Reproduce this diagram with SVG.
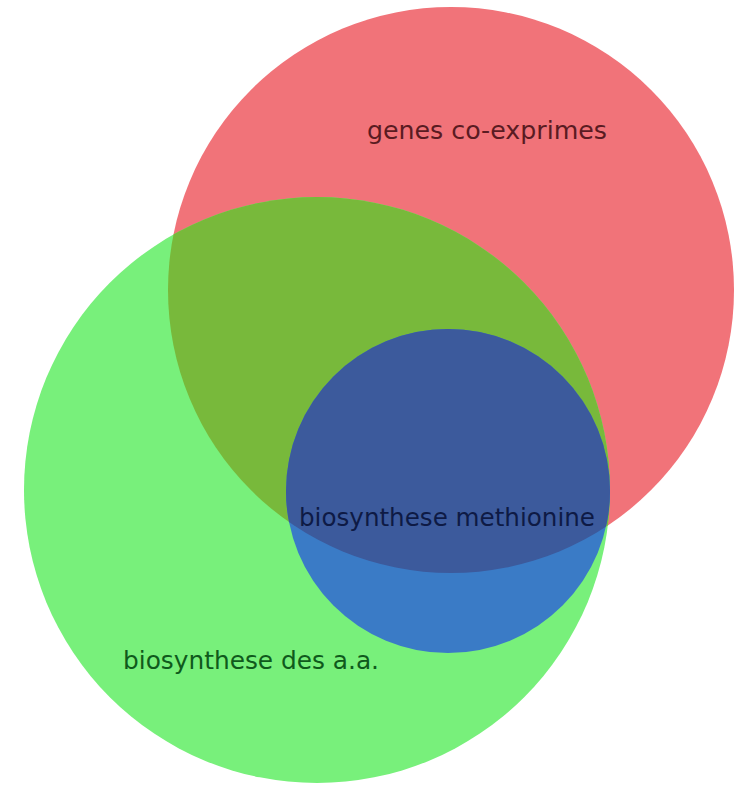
<svg xmlns="http://www.w3.org/2000/svg" width="741" height="785" viewBox="0 0 741 785">
  <style>
    text { font-family: "DejaVu Sans", "Verdana", sans-serif; font-size: 24px; }
  </style>
  <defs>
    <clipPath id="clipRed"><circle cx="451" cy="290" r="283"/></clipPath>
  </defs>
  <rect width="741" height="785" fill="#ffffff"/>
  <g id="genes-co-exprimes">
    <circle cx="451" cy="290" r="283" fill="#f17379"/>
  </g>
  <g id="biosynthese-des-aa">
    <circle cx="317" cy="490" r="293" fill="#78f07b"/>
    <circle cx="317" cy="490" r="293" fill="#78b93b" clip-path="url(#clipRed)"/>
  </g>
  <g id="biosynthese-methionine">
    <circle cx="448" cy="491" r="162" fill="#3a7bc6"/>
    <circle cx="448" cy="491" r="162" fill="#3c5a9c" clip-path="url(#clipRed)"/>
  </g>
  <g id="labels">
    <text x="367" y="139" fill="#5a1b22" textLength="240" lengthAdjust="spacingAndGlyphs">genes co-exprimes</text>
    <text x="299" y="526" fill="#0e1a45" textLength="296" lengthAdjust="spacingAndGlyphs">biosynthese methionine</text>
    <text x="123" y="669" fill="#0f5a1c" textLength="256" lengthAdjust="spacingAndGlyphs">biosynthese des a.a.</text>
  </g>
  <g id="connectors"/>
</svg>
